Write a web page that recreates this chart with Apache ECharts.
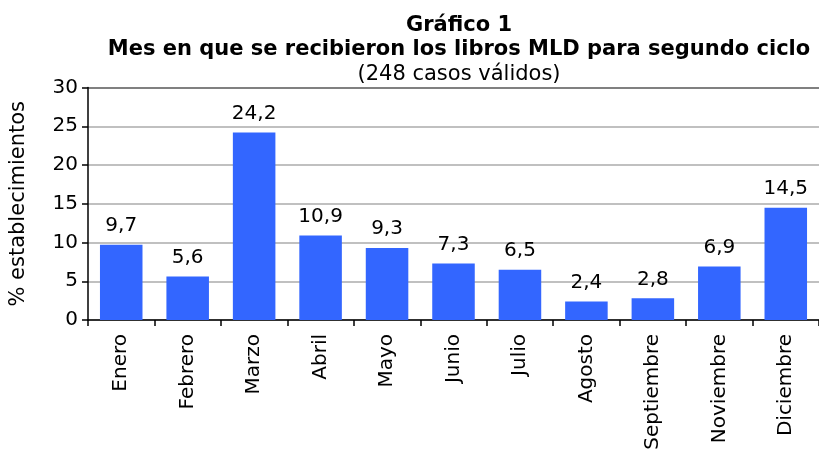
<!DOCTYPE html>
<html>
<head>
<meta charset="utf-8">
<script src="https://cdn.jsdelivr.net/npm/echarts@6/dist/echarts.min.js"></script>
<style>
	html, body { margin: 0; padding: 0; background: #ffffff; }
	#chart { width: 819px; height: 453px; }
</style>
</head>
<body>
<div id="chart"></div>
<script>

// Meses (categorias del eje X)
var months = ['Enero', 'Febrero', 'Marzo', 'Abril', 'Mayo', 'Junio', 'Julio', 'Agosto', 'Septiembre', 'Noviembre', 'Diciembre'];

// % de establecimientos por mes
var percentValues = [9.7, 5.6, 24.2, 10.9, 9.3, 7.3, 6.5, 2.4, 2.8, 6.9, 14.5];

// Marcas del eje Y
var yTicks = [0, 5, 10, 15, 20, 25, 30];

var titleLines = [
	'Gráfico 1',
	'Mes en que se recibieron los libros MLD para segundo ciclo',
	'(248 casos válidos)'
];

var fontFamily = 'DejaVu Sans, Verdana, sans-serif';

var chart = echarts.init(document.getElementById('chart'), null, { renderer: 'canvas' });

// the 30 line is darker (plot border in the original)
var gridColors = yTicks.map(function(t){
	return t === 30 ? '#808080' : '#c0c0c0';
});

var option = {
	animation: false,
	backgroundColor: '#ffffff',
	graphic: [
		{
			type: 'text', x: 459, y: 26,
			style: { text: titleLines[0], font: 'bold 21px ' + fontFamily, fill: '#000', align: 'center', verticalAlign: 'middle', textAlign: 'center', textVerticalAlign: 'middle' }
		},
		{
			type: 'text', x: 459, y: 50,
			style: { text: titleLines[1], font: 'bold 21px ' + fontFamily, fill: '#000', align: 'center', verticalAlign: 'middle', textAlign: 'center', textVerticalAlign: 'middle' }
		},
		{
			type: 'text', x: 459, y: 75,
			style: { text: titleLines[2], font: '21px ' + fontFamily, fill: '#000', align: 'center', verticalAlign: 'middle', textAlign: 'center', textVerticalAlign: 'middle' }
		}
	],
	grid: {
		left: 87.5,
		top: 87.5,
		width: 737,
		height: 232.5,
		containLabel: false
	},
	xAxis: {
		type: 'category',
		data: months,
		boundaryGap: true,
		axisLine: { lineStyle: { color: '#000', width: 1.5 } },
		axisTick: { show: true, alignWithLabel: false, length: 6, lineStyle: { color: '#000', width: 1.5 } },
		axisLabel: {
			rotate: 90,
			margin: 14,
			interval: 0,
			color: '#000',
			fontFamily: fontFamily,
			fontSize: 20
		}
	},
	yAxis: {
		type: 'value',
		min: yTicks[0],
		max: yTicks[yTicks.length - 1],
		interval: 5,
		name: '% establecimientos',
		nameLocation: 'middle',
		nameGap: 59,
		nameRotate: 90,
		nameTextStyle: { color: '#000', fontFamily: fontFamily, fontSize: 21 },
		axisLine: { show: true, lineStyle: { color: '#000', width: 1.5 } },
		axisTick: { show: true, inside: false, length: 6, lineStyle: { color: '#000', width: 1.5 } },
		axisLabel: { margin: 10, color: '#000', fontFamily: fontFamily, fontSize: 20 },
		splitLine: { show: true, lineStyle: { color: gridColors, width: 2 } }
	},
	series: [
		{
			type: 'bar',
			data: percentValues,
			barCategoryGap: '36%',
			itemStyle: { color: '#3366ff' },
			label: {
				show: true,
				position: 'top',
				distance: 9,
				color: '#000',
				fontFamily: fontFamily,
				fontSize: 20,
				formatter: function(p){
					return String(p.value).replace('.', ',');
				}
			}
		}
	]
};

chart.setOption(option);

</script>
</body>
</html>
